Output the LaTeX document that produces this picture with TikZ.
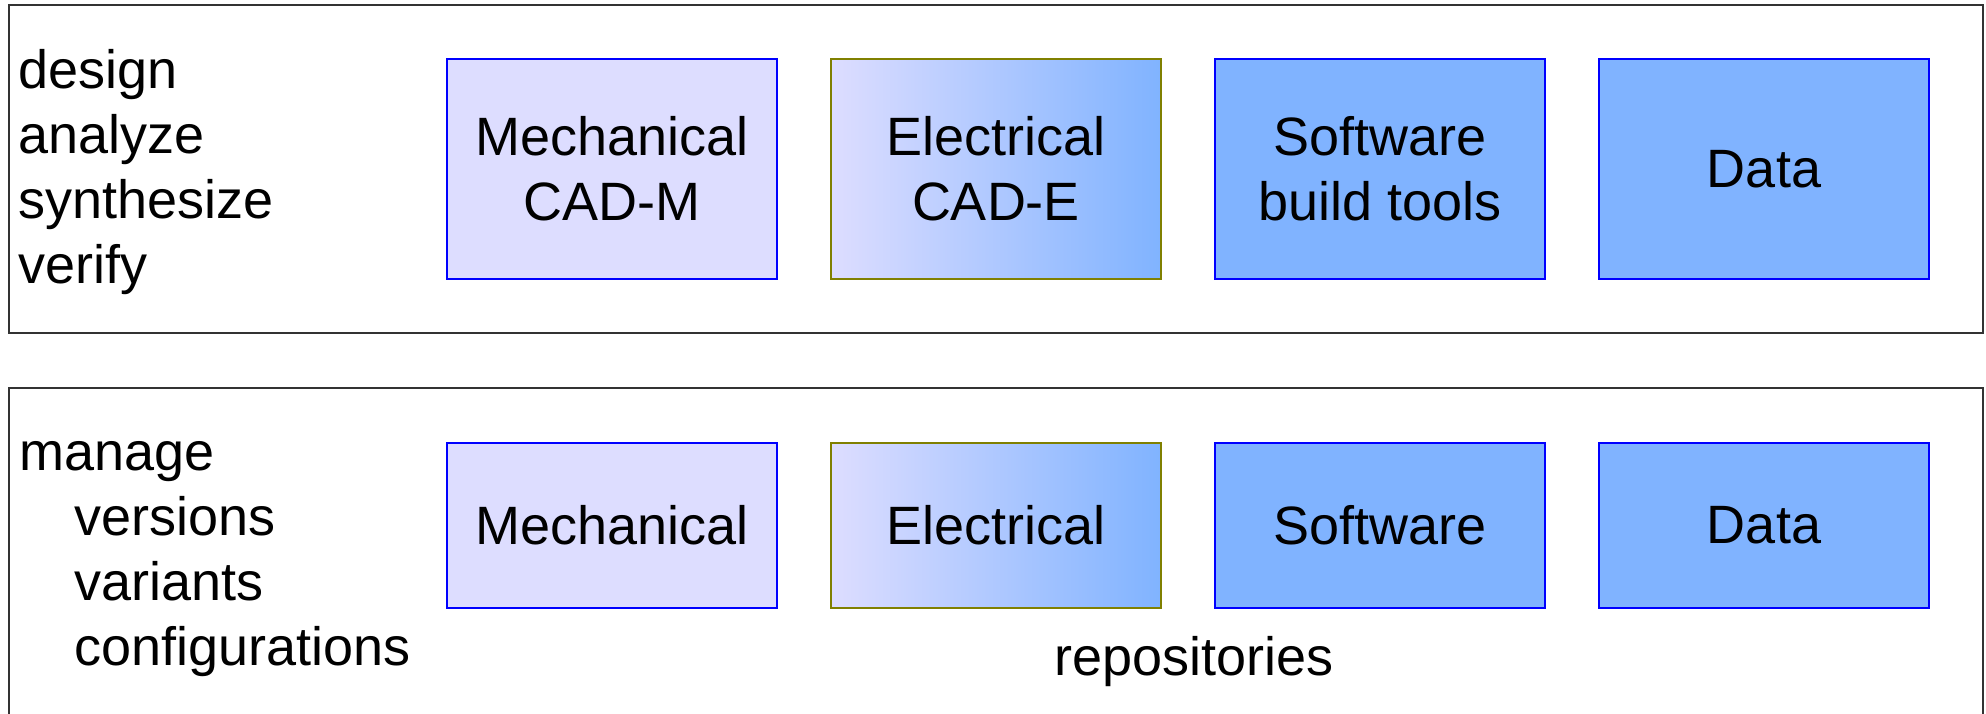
\documentclass[tikz,border=0pt]{standalone}
\usepackage{fontspec}
\setmainfont{Liberation Sans}
\usetikzlibrary{positioning}

\definecolor{mechFill}{HTML}{DDDDFF}
\definecolor{swFill}{HTML}{80B3FF}
\definecolor{elecDraw}{HTML}{808000}
\definecolor{frameDraw}{HTML}{333333}

\begin{document}
\begin{tikzpicture}[
    x=1pt, y=1pt,             % work in points
    node distance=26pt,       % gap between the boxes of a row
    every node/.style={font=\fontsize{27}{32.5}\selectfont}
  ]

  %--- Styles for frames, boxes and words ---
  \tikzset{
    frameStyle/.style ={draw=frameDraw, line width=1pt},
    mechStyle/.style  ={rectangle, draw=blue, fill=mechFill, line width=1pt,
    minimum width=165pt, align=center},
    elecStyle/.style  ={rectangle, draw=elecDraw, left color=mechFill,
    right color=swFill, line width=1pt, minimum width=165pt, align=center},
    softStyle/.style  ={rectangle, draw=blue, fill=swFill, line width=1pt,
    minimum width=165pt, align=center},
    % heights of the two rows
    topBox/.style={minimum height=110pt},
    lowBox/.style={minimum height=82.5pt},
    wordStyle/.style={anchor=base west, inner sep=0pt},
  }

  \useasboundingbox (0,0) rectangle (993,-356.5);

  %------------------------------------------------------------------------------
  % 1) Frames (the lower one runs off the bottom)
  %------------------------------------------------------------------------------
  \draw[frameStyle] (4.5,-2.25) rectangle (991.5,-166.5);
  \draw[frameStyle] (4.5,-194) rectangle (991.5,-400);

  %------------------------------------------------------------------------------
  % 2) Upper row: tools
  %------------------------------------------------------------------------------
  \node[mechStyle, topBox] (mechCAD) at (306,-84.5) {Mechanical\\CAD-M};
  \node[elecStyle, topBox] (elecCAD) [right=of mechCAD] {Electrical\\CAD-E};
  \node[softStyle, topBox] (softTools) [right=of elecCAD] {Software\\build tools};
  \node[softStyle, topBox] (dataTop) [right=of softTools] {Data};

  \foreach \w [count=\i] in {design, analyze, synthesize, verify}
    \node[wordStyle] (task\i) at (9, {-44-32.5*(\i-1)}) {\w};

  %------------------------------------------------------------------------------
  % 3) Lower row: repositories
  %------------------------------------------------------------------------------
  \node[mechStyle, lowBox] (mechRepo) at (306,-262.75) {Mechanical};
  \node[elecStyle, lowBox] (elecRepo) [right=of mechRepo] {Electrical};
  \node[softStyle, lowBox] (softRepo) [right=of elecRepo] {Software};
  \node[softStyle, lowBox] (dataRepo) [right=of softRepo] {Data};

  \node[wordStyle] (manage) at (9.5,-235) {manage};
  \foreach \w [count=\i] in {versions, variants, configurations}
    \node[wordStyle] (manage\i) at (37, {-235-32.5*\i}) {\w};

  \node[anchor=base, inner sep=0pt] (repoLabel) at (597,-337.5) {repositories};

\end{tikzpicture}
\end{document}
